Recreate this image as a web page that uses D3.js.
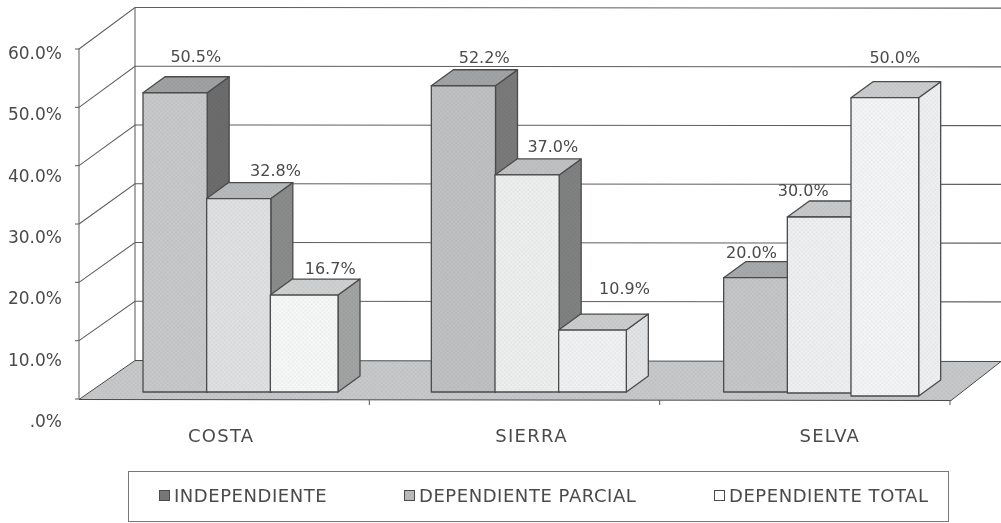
<!DOCTYPE html>
<html><head><meta charset="utf-8">
<script src="https://cdn.jsdelivr.net/npm/d3@7/dist/d3.min.js"></script>
<style>
html,body{margin:0;padding:0;background:#fff;overflow:hidden}
svg{display:block;filter:blur(0.35px)}
text{font-family:"DejaVu Sans",sans-serif;fill:#4a4a4a}
</style></head><body><svg id="c" width="1001" height="523"></svg>
<script>
const categories = ["COSTA","SIERRA","SELVA"];
const seriesNames = ["INDEPENDIENTE","DEPENDIENTE PARCIAL","DEPENDIENTE TOTAL"];
const independiente = [50.5,52.2,20.0];
const parcial = [32.8,37.0,30.0];
const total = [16.7,10.9,50.0];
const seriesValues = [independiente,parcial,total];
const tickValues = [0,10,20,30,40,50,60];
const tickLabels = [".0%","10.0%","20.0%","30.0%","40.0%","50.0%","60.0%"];

// scanned shading differs from bar to bar: [category][series]
const frontFill = [["#c6c8ca","#dee0e2","#f6f7f7"],["#bec0c2","#edeeee","#f0f1f2"],["#c4c6c8","#eeeff0","#f3f4f5"]];
const sideFill  = [["#6c6c6c","#8a8b8b","#a2a3a3"],["#7a7a7a","#808181","#e2e3e4"],["#777777","#e6e7e8","#eeeff0"]];
const topFill   = [["#a0a1a2","#b8b9ba","#cfd0d1"],["#a2a3a4","#c0c1c2","#cbcccd"],["#a8a9aa","#c8c9ca","#cbcccd"]];
const floorFill = "#c6c8ca";
const legendFill = ["#777879","#b9babb","#ffffff"];

const W=1001, stroke="#4b4b4b";
const svg=d3.select("#c");
const defs=svg.append("defs");
const patId=c=>"p"+c.slice(1);
const allFills=Array.from(new Set([floorFill,...frontFill.flat(),...sideFill.flat(),...topFill.flat(),...legendFill]));
allFills.forEach(c=>{
  const p=defs.append("pattern").attr("id",patId(c)).attr("width",3).attr("height",3)
    .attr("patternUnits","userSpaceOnUse").attr("patternTransform","rotate(45)");
  p.append("rect").attr("width",3).attr("height",3).attr("fill",c);
  p.append("rect").attr("width",1.4).attr("height",1.4)
    .attr("fill",d3.color(c).darker(0.2).formatHex());
});
const pf=c=>c==="#ffffff"?c:`url(#${patId(c)})`;

// walls
const yFront=d3.scaleLinear().domain([0,60]).range([399,49]);
const yBack=d3.scaleLinear().domain([0,60]).range([360,7.5]);
const yBar=d3.scaleLinear().domain([0,60]).range([392,40]);
const yTickText=d3.scaleLinear().domain([0,60]).range([427,59]);
const xFrontAxis=79,xBackWall=135;
const xCat=d3.scaleBand().domain(categories).range([79,950]).paddingInner(0).paddingOuter(0);
const xSer=d3.scaleBand().domain(d3.range(3)).range([63,254]);
const depthX=22,depthY=-16;

// floor
svg.append("path").attr("d",d3.line()([[xFrontAxis,399.5],[xBackWall,360.5],[1001,361.5],[951,400.5]])+"Z")
  .attr("fill",pf(floorFill)).attr("stroke",stroke).attr("stroke-width",1);

// grid
const grid=svg.append("g").attr("fill","none").attr("stroke","#5e5e5e").attr("stroke-width",1.05);
grid.selectAll("path").data(tickValues.slice(1)).join("path")
  .attr("d",v=>d3.line()([[xFrontAxis,yFront(v)],[xBackWall,yBack(v)],[W,yBack(v)+0.6]]));
grid.append("path").attr("d",d3.line()([[xBackWall,yBack(60)],[xBackWall,yBack(0)]]));
grid.append("path").attr("d",d3.line()([[xFrontAxis,yFront(60)],[xFrontAxis,yFront(0)]]));
grid.selectAll("line.t").data(tickValues).join("line").attr("class","t")
  .attr("x1",xFrontAxis-4).attr("x2",xFrontAxis).attr("y1",yFront).attr("y2",yFront);
grid.selectAll("line.c").data(categories).join("line").attr("class","c")
  .attr("x1",c=>xCat(c)+xCat.bandwidth()).attr("x2",c=>xCat(c)+xCat.bandwidth())
  .attr("y1",400).attr("y2",405);

// bars, left to right so each overlaps the side of its neighbour
const baseNudge=[[0,0,0],[0,0,0],[0,1,4]];
const topNudge=[[-3,-1,1],[0,0,2],[3,1,-1]];
const catShift=[1,-1,1];
const xBar=(ci,si)=>xCat(categories[ci])+xSer(si)+catShift[ci];
const widthBar=si=>xSer.bandwidth()+(si===2?4:0.5);
categories.forEach((cat,ci)=>{
  seriesValues.forEach((vals,si)=>{
    const x0=xBar(ci,si), x1=x0+widthBar(si);
    const yt=yBar(vals[ci])+topNudge[ci][si], yb=yBar(0)+baseNudge[ci][si];
    const g=svg.append("g").attr("stroke",stroke).attr("stroke-width",1.3).attr("stroke-linejoin","round");
    g.append("path").attr("fill",pf(sideFill[ci][si]))
      .attr("d",d3.line()([[x1,yt],[x1+depthX,yt+depthY],[x1+depthX,yb+depthY],[x1,yb]])+"Z");
    g.append("path").attr("fill",pf(topFill[ci][si]))
      .attr("d",d3.line()([[x0,yt],[x0+depthX,yt+depthY],[x1+depthX,yt+depthY],[x1,yt]])+"Z");
    g.append("path").attr("fill",pf(frontFill[ci][si]))
      .attr("d",d3.line()([[x0,yt],[x1,yt],[x1,yb],[x0,yb]])+"Z");
  });
});

// value labels (hand-placed in the source chart)
const labelDx=[[22,38,29],[20,25,33],[-3,-15,13]];
const labelDy=[[-31,-23,-21],[-23,-23,-36],[-20,-21,-35]];
const labelBase=(ci,si,v)=>yBar(v)+topNudge[ci][si]+labelDy[ci][si];
categories.forEach((cat,ci)=>{
  seriesValues.forEach((vals,si)=>{
    svg.append("text")
      .attr("x",xCat(cat)+xSer(si)+xSer.bandwidth()/2+labelDx[ci][si])
      .attr("y",labelBase(ci,si,vals[ci]))
      .attr("text-anchor","middle").attr("font-size",16)
      .text(vals[ci].toFixed(1)+"%");
  });
});

// y labels
svg.append("g").selectAll("text").data(tickValues).join("text")
  .attr("x",62).attr("y",yTickText).attr("text-anchor","end").attr("font-size",17)
  .text((v,i)=>tickLabels[i]);

// category labels
const catNudge=[-3,17,25];
svg.append("g").selectAll("text").data(categories).join("text")
  .attr("x",(c,i)=>xCat(c)+xCat.bandwidth()/2+catNudge[i]).attr("y",442)
  .attr("text-anchor","middle").attr("font-size",18).attr("letter-spacing",1.3)
  .text(c=>c);

// legend
svg.append("rect").attr("x",128.5).attr("y",471.5).attr("width",820).attr("height",50)
  .attr("fill","#fff").attr("stroke","#777").attr("stroke-width",1);
const legendX=d3.scaleOrdinal().domain(seriesNames).range([159,404,714]);
const lg=svg.append("g").selectAll("g").data(seriesNames).join("g")
  .attr("transform",s=>`translate(${legendX(s)},0)`);
lg.append("rect").attr("x",0.5).attr("y",490.5).attr("width",10).attr("height",10)
  .attr("fill",(s,i)=>pf(legendFill[i])).attr("stroke",stroke).attr("stroke-width",1);
lg.append("text").attr("x",15).attr("y",502).attr("font-size",18).attr("letter-spacing",0.55).text(s=>s);
</script></body></html>
